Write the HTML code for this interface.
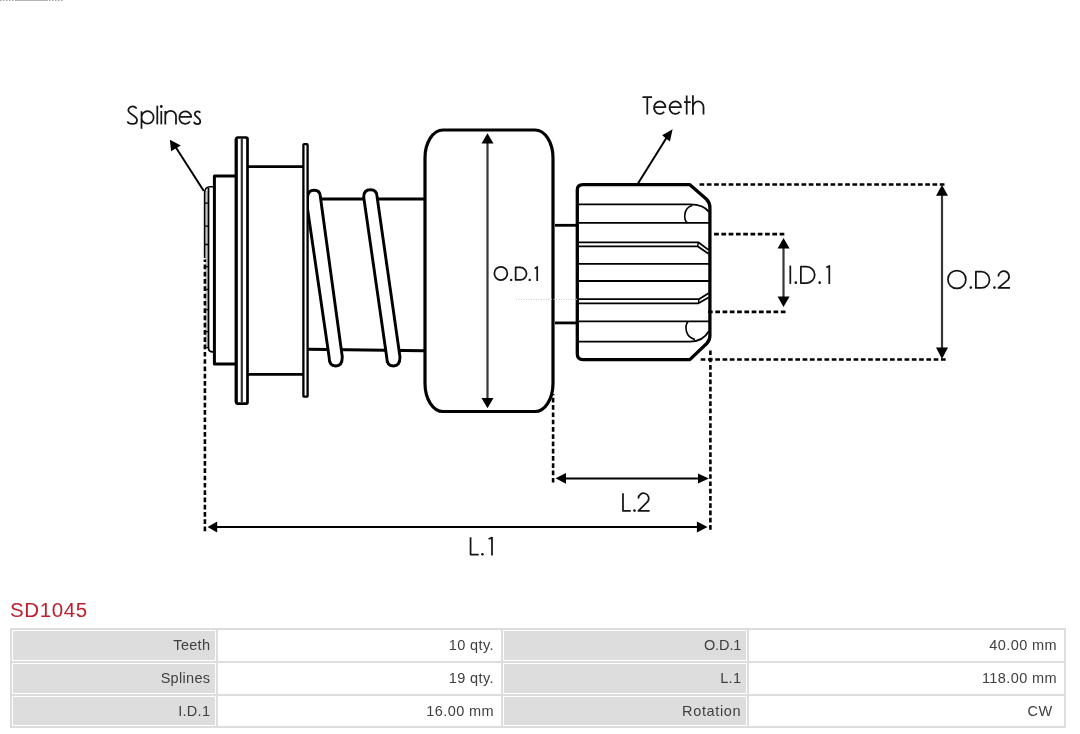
<!DOCTYPE html>
<html>
<head>
<meta charset="utf-8">
<style>
html,body{margin:0;padding:0;background:#fff;}
body{width:1080px;height:734px;overflow:hidden;position:relative;font-family:"Liberation Sans",sans-serif;}
#diag{position:absolute;left:0;top:0;will-change:transform;}
.title{will-change:transform;position:absolute;left:10px;top:597px;font-size:20.5px;letter-spacing:0.6px;line-height:26px;color:#bd1f2d;white-space:nowrap;}
.tbl{will-change:transform;position:absolute;left:10px;top:628px;width:1056px;height:100px;background:#dddddd;}
.c{position:absolute;box-sizing:border-box;border:1px solid #fff;text-align:right;font-size:14.5px;color:#3f3f3f;white-space:nowrap;padding-right:6px;}
.l{background:#dddddd;letter-spacing:0.3px;padding-right:4.7px;}
.v{background:#fff;letter-spacing:0.4px;}
</style>
</head>
<body>
<svg id="diag" width="1080" height="600" viewBox="0 0 1080 600">
  <!-- top-left tiny dotted -->
  <line x1="0" y1="0.5" x2="16" y2="0.5" stroke="#a0a0a0" stroke-width="1" stroke-dasharray="1.5 1.5"/><line x1="16" y1="0.5" x2="48" y2="0.5" stroke="#b4b4b4" stroke-width="1"/><line x1="49" y1="0.5" x2="64" y2="0.5" stroke="#a0a0a0" stroke-width="1" stroke-dasharray="1.5 1.5"/>

  <g fill="none" stroke="#000" stroke-linejoin="round">
    <!-- splines arrow -->
    <line x1="203.8" y1="191" x2="174" y2="144.5" stroke-width="2"/>
    <!-- spline plate -->
    <rect x="205.2" y="191" width="2.4" height="157" fill="#c6c6c6" stroke="none"/>
    <path d="M204.6,258 V193 Q204.8,187.4 209.5,186.8 H213" stroke-width="1.6"/>
    <path d="M208.5,188 V348.5 Q208.8,351.6 212,351.8 H213.5" stroke-width="1.8"/>
    <path d="M204.5,203.2 H208.5 M204.5,226.1 H208.5 M204.5,244.5 H208.5 M204.5,266.6 H208.5 M204.5,289.5 H208.5 M204.5,309.7 H208.5 M204.5,331.7 H208.5 M204.5,347.6 H208.5" stroke-width="1.3"/>
    <!-- small box -->
    <path d="M236,176.1 H214.4 V364.1 H236" stroke-width="3"/>
    <!-- flange 1 -->
    <rect x="236.3" y="137.5" width="11.2" height="266.2" rx="1.4" stroke-width="2.7" fill="#fff"/>
    <line x1="236.1" y1="138.5" x2="236.1" y2="402.5" stroke-width="3"/>
    <line x1="241.8" y1="139" x2="241.8" y2="402.5" stroke-width="2.2" stroke="#333"/>
    <!-- body -->
    <line x1="248" y1="166.6" x2="303" y2="166.6" stroke-width="2.8"/>
    <line x1="248" y1="374.3" x2="303" y2="374.3" stroke-width="2.8"/>
        <!-- shaft lines -->
    <line x1="308" y1="198.9" x2="424" y2="198.9" stroke-width="3"/>
    <line x1="308" y1="349.2" x2="424" y2="350.8" stroke-width="3"/>
    <!-- coils -->
    <path d="M307.4,208 L307.6,197 Q308,190.2 314,190.2 Q320.4,190.2 320.4,197 L342.3,357 Q342.3,366 335.7,366 Q329.1,366 329.1,357 Z" stroke-width="2.9" fill="#fff"/>
    <path d="M363.7,197 Q363.7,189.7 370.4,189.7 Q377.1,189.7 377.1,197 L400,357 Q400,366 393.35,366 Q386.7,366 386.7,357 Z" stroke-width="2.9" fill="#fff"/>
    <!-- flange 2 (over coil) -->
    <rect x="303.4" y="144.1" width="4.2" height="252.6" rx="0.8" stroke-width="2.3" fill="#fff"/>
    <!-- big rounded rect -->
    <rect x="425" y="130" width="128" height="281.5" rx="18" ry="28" stroke-width="3.2" fill="#fff"/>
    <!-- OD1 arrow -->
    <line x1="487.5" y1="142" x2="487.5" y2="399" stroke-width="2.2" stroke="#383838"/>
    <!-- shaft to pinion -->
    <line x1="555" y1="225.3" x2="577" y2="225.3" stroke-width="2.8"/>
    <line x1="555" y1="322.9" x2="577" y2="322.9" stroke-width="2.8"/>
    <!-- pinion outline -->
    <path d="M577.3,190 Q577.3,184.6 583,184.6 L689.6,184.6 L706.3,199 Q709.9,202.6 709.9,207.5 L709.9,336 Q709.9,340.2 706.5,343.8 L689.8,359.6 L583,359.6 Q577.3,359.6 577.3,354 Z" stroke-width="3.3" fill="#fff"/>
    <!-- tooth lines -->
    <path d="M578.5,204.4 L690,204.4 C699,204.4 705,206.5 709,212" stroke-width="1.8"/>
    <path d="M692.3,205.6 C683,208 683.5,220 687.5,222.9" stroke-width="1.6"/>
    <line x1="578.5" y1="222.9" x2="709" y2="222.9" stroke-width="1.8"/>
    <path d="M578.5,242.3 L698.3,242.3 L708.5,249.9" stroke-width="1.8"/>
    <path d="M578.5,246.3 L697.6,246.3 L708.5,253.8" stroke-width="1.8"/>
    <path d="M698.3,242.3 L697.6,246.3" stroke-width="1.4"/>
    <line x1="578.5" y1="263.8" x2="709" y2="263.8" stroke-width="1.8"/>
    <line x1="578.5" y1="281" x2="709" y2="281" stroke-width="1.8"/>
    <path d="M578.5,299.2 L698.9,299.2 L708.5,293.2" stroke-width="1.8"/>
    <path d="M578.5,303.3 L698.5,303.3 L708.5,297.5" stroke-width="1.8"/>
    <path d="M698.9,299.2 L698.5,303.3" stroke-width="1.4"/>
    <line x1="578.5" y1="321.4" x2="709" y2="321.4" stroke-width="1.8"/>
    <path d="M688,321.6 C684.5,326 685,337 695,339.5" stroke-width="1.6"/>
    <path d="M578.5,341.6 L690,341.6 C699,341.6 705,338 709,331" stroke-width="1.8"/>
    <!-- teeth arrow -->
    <line x1="637.7" y1="184" x2="667" y2="137" stroke-width="2"/>
    <!-- ID1 / OD2 arrows -->
    <line x1="783.5" y1="247" x2="783.5" y2="298" stroke-width="2.2" stroke="#383838"/>
    <line x1="942" y1="194" x2="942" y2="349" stroke-width="2.2" stroke="#383838"/>
    <!-- L2 / L1 arrows -->
    <line x1="565" y1="478.5" x2="699" y2="478.5" stroke-width="2"/>
    <line x1="216" y1="527" x2="698" y2="527" stroke-width="2"/>
  </g>

  <!-- dotted lines -->
  <g fill="none" stroke="#000" stroke-width="2.6" stroke-dasharray="4.7 2.58">
    <line x1="699.54" y1="184.5" x2="945.2" y2="184.5"/>
    <line x1="700.7" y1="359.5" x2="946.8" y2="359.5"/>
    <line x1="714.1" y1="234.1" x2="784.6" y2="234.1"/>
    <line x1="708" y1="311.9" x2="785.7" y2="311.9"/>
    <line x1="204.9" y1="531.3" x2="204.9" y2="259.5"/>
    <line x1="553.1" y1="482.6" x2="553.1" y2="394"/>
    <line x1="710.4" y1="529.8" x2="710.4" y2="349.5"/>
  </g>
  <!-- faint dotted artifacts -->
  <line x1="516" y1="299.4" x2="577" y2="299.4" stroke="#c8c8c8" stroke-width="1" stroke-dasharray="1 1.5"/>

  <!-- arrowheads -->
  <g fill="#000" stroke="none">
    <polygon points="169.9,139.7 180.8,145.5 171.1,151.3"/>
    <polygon points="672.6,129.2 669.9,141.6 662.1,135.2"/>
    <polygon points="487.5,133.2 481.5,143.6 493.5,143.6"/>
    <polygon points="487.5,408.3 481.5,397.9 493.5,397.9"/>
    <polygon points="783.5,238 777.6,248.5 789.6,248.5"/>
    <polygon points="783.5,306.9 777.6,296.4 789.6,296.4"/>
    <polygon points="942,184.9 936,195.8 948,195.8"/>
    <polygon points="942,359 936,347.5 948,347.5"/>
    <polygon points="555.5,478.3 566,472.9 566,483.7"/>
    <polygon points="708.9,478.5 698,473.5 698,483.5"/>
    <polygon points="207.6,527 217.2,521.5 217.2,532.5"/>
    <polygon points="707.6,527 696.9,521.6 696.9,532.4"/>
  </g>

  <!-- labels -->
  <g fill="none" stroke="#151515" stroke-width="1.75" stroke-linecap="butt" stroke-linejoin="round">
    <path d="M136.6,108.7 C135.6,106.58 133.93,106.28 132.6,106.28 C128.38,106.28 128.18,110.25 128.48,111.13 C129.38,114.5 136.83,115.4 137.03,119.95 C137.03,123.72 134.81,123.92 132.6,123.92 C129.95,123.92 127.9,123.12 127.6,121.4"/>
    <path d="M141.5,111.17 V128.72 M141.5,117.45 A6.06,6.27 0 1 1 153.62,117.45 A6.06,6.27 0 1 1 141.5,117.45"/>
    <path d="M157.3,105.7 V124.3"/>
    <path d="M161.3,111 V124.3"/>
    <path d="M165.3,110.88 V124.4 M165.3,116.22 A5.35,5.35 0 0 1 176,116.22 V124.4"/>
    <path d="M179.28,116.9 H191.22 A5.97,6.33 0 1 0 189.96,121.59"/>
    <path d="M200.4,112.6 C199.4,111.67 198.35,111.38 197.5,111.38 C194.88,111.38 194.68,114.22 194.98,114.85 C195.88,117.1 200.12,118 200.32,121.18 C200.32,123.83 198.91,124.03 197.5,124.03 C195.81,124.03 194.3,123.23 194,121.8"/>
    <path d="M642.5,97.08 H652.1 M647.3,97.08 V114.5"/>
    <path d="M653.98,107 H665.52 A5.77,6.28 0 1 0 664.17,111.78"/>
    <path d="M669.48,107 H681.02 A5.77,6.28 0 1 0 679.67,111.78"/>
    <path d="M686.7,95.6 V114.5 M684,102.2 H690.8"/>
    <path d="M692.9,95.3 V114.5"/>
    <path d="M692.9,110 V114.5 M692.9,106.78 A5.3,5.3 0 0 1 703.5,106.78 V114.5"/>
    <path d="M494.38,273.4 A6.47,6.62 0 1 1 507.33,273.4 A6.47,6.62 0 1 1 494.38,273.4 Z"/>
    <path d="M515.67,267.48 H520.3 A6.22,6.22 0 0 1 520.3,279.93 H515.67 Z"/>
    <path d="M534.7,268.6 L537.2,266.9 V280.9"/>
    <path d="M790.3,265.6 V283.9"/>
    <path d="M800.88,266.68 H806.55 A8.17,8.17 0 0 1 806.55,283.02 H800.88 Z"/>
    <path d="M826.3,267.6 L829.3,265.9 V283.9"/>
    <path d="M947.98,279.5 A8.93,8.62 0 1 1 965.83,279.5 A8.93,8.62 0 1 1 947.98,279.5 Z"/>
    <path d="M975.88,271.68 H981.4 A8.12,8.12 0 0 1 981.4,287.93 H975.88 Z"/>
    <path d="M998.38,276.55 A5.38,5.38 0 1 1 1007.99,279.86 L998.38,287.93 H1010"/>
    <path d="M622.98,493.2 V510.93 H630.8"/>
    <path d="M638.38,498.45 A5.18,5.18 0 1 1 647.63,501.64 L638.38,510.93 H649.6"/>
    <path d="M470.57,537.3 V554.62 H478.7"/>
    <path d="M488.6,539 L492,537.6 V555.5"/>
  </g>
  <g fill="#151515">
    <circle cx="161.3" cy="106.5" r="1.4"/>
    <circle cx="511.2" cy="279.9" r="1.2"/>
    <circle cx="529.7" cy="279.9" r="1.2"/>
    <circle cx="795.8" cy="282.7" r="1.35"/>
    <circle cx="819.7" cy="282.7" r="1.35"/>
    <circle cx="970.8" cy="287.6" r="1.3"/>
    <circle cx="994.4" cy="287.6" r="1.3"/>
    <circle cx="634.5" cy="510.6" r="1.3"/>
    <circle cx="482.4" cy="554.3" r="1.3"/>
  </g>
</svg>

<div class="title">SD1045</div>

<div class="tbl">
  <!-- row 1 -->
  <div class="c l" style="left:2px;top:2px;width:204px;height:31px;line-height:29px;">Teeth</div>
  <div class="c v" style="left:208px;top:2px;width:283px;height:31px;line-height:29px;">10 qty.</div>
  <div class="c l" style="left:493px;top:2px;width:244px;height:31px;line-height:29px;letter-spacing:-0.1px;">O.D.1</div>
  <div class="c v" style="left:739px;top:2px;width:315px;height:31px;line-height:29px;">40.00 mm</div>
  <!-- row 2 -->
  <div class="c l" style="left:2px;top:35px;width:204px;height:31px;line-height:29px;">Splines</div>
  <div class="c v" style="left:208px;top:35px;width:283px;height:31px;line-height:29px;">19 qty.</div>
  <div class="c l" style="left:493px;top:35px;width:244px;height:31px;line-height:29px;">L.1</div>
  <div class="c v" style="left:739px;top:35px;width:315px;height:31px;line-height:29px;">118.00 mm</div>
  <!-- row 3 -->
  <div class="c l" style="left:2px;top:68px;width:204px;height:30px;line-height:28px;">I.D.1</div>
  <div class="c v" style="left:208px;top:68px;width:283px;height:30px;line-height:28px;">16.00 mm</div>
  <div class="c l" style="left:493px;top:68px;width:244px;height:30px;line-height:28px;letter-spacing:0.65px;">Rotation</div>
  <div class="c v" style="left:739px;top:68px;width:315px;height:30px;line-height:28px;">CW&nbsp;</div>
</div>
</body>
</html>
